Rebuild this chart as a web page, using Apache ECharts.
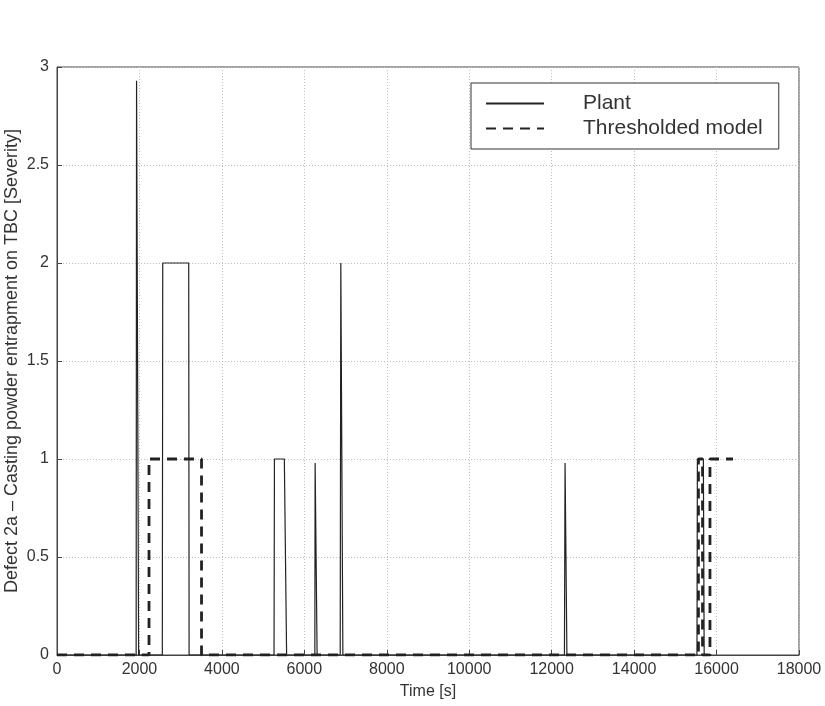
<!DOCTYPE html>
<html>
<head>
<meta charset="utf-8">
<title>Defect 2a severity over time</title>
<script src="https://cdn.jsdelivr.net/npm/echarts@6/dist/echarts.min.js"></script>
<style>
  html, body { margin: 0; padding: 0; background: #ffffff; }
  #chart { width: 825px; height: 706px; }
</style>
</head>
<body>
<div id="chart"></div>
<script>
// Plant-observed severity (time in seconds, severity level)
const plantTime     = [0, 1920, 1930, 1980, 2555, 2565, 3195, 3205, 5265, 5275, 5515, 5570, 6255, 6262, 6310, 6870, 6885, 6935, 12310, 12325, 12370, 15525, 15535, 15680, 15700];
const plantSeverity = [0, 0,    2.93, 0,    0,    2,    2,    0,    0,    1,    1,    0,    0,    0.98, 0,    0,    2,    0,    0,     0.98,  0,     0,     1,     1,     0];

// Thresholded model output
const modelTime     = [0, 2232, 2232, 3506, 3506, 15560, 15560, 15660, 15660, 15840, 15840, 16400];
const modelSeverity = [0, 0,    1,    1,    0,    0,     1,     1,     0,     0,     1,     1];

// Axis ticks
const xTicks = [0, 2000, 4000, 6000, 8000, 10000, 12000, 14000, 16000, 18000];
const yTickLabels = ['0', '0.5', '1', '1.5', '2', '2.5', '3'];

const pairs = (xs, ys) => xs.map((x, i) => [x, ys[i]]);

const FONT = '"Liberation Sans", Arial, Helvetica, sans-serif';
const INK = '#222222';

const chart = echarts.init(document.getElementById('chart'), null, { renderer: 'canvas' });

chart.setOption({
  animation: false,
  backgroundColor: '#ffffff',
  textStyle: { fontFamily: FONT },
  grid: {
    left: 57, right: 26, top: 67, bottom: 51,
    containLabel: false,
    outerBoundsMode: 'none',
    show: true,
    borderColor: '#444444',
    borderWidth: 1,
    backgroundColor: '#ffffff'
  },
  legend: {
    orient: 'vertical',
    left: 471,
    top: 83,
    padding: [10, 16, 10, 14],
    itemGap: 4,
    itemWidth: 58,
    itemHeight: 14,
    backgroundColor: '#ffffff',
    borderColor: '#333333',
    borderWidth: 1,
    borderRadius: 0,
    selectedMode: false,
    itemStyle: { opacity: 0 },
    textStyle: {
      fontFamily: FONT,
      fontSize: 21,
      lineHeight: 21,
      color: '#333333',
      padding: [0, 0, 0, 34]
    },
    data: ['Plant', 'Thresholded model']
  },
  xAxis: {
    type: 'value',
    min: 0,
    max: 18000,
    interval: 2000,
    name: 'Time [s]',
    nameLocation: 'middle',
    nameGap: 29,
    nameMoveOverlap: false,
    nameTextStyle: { fontFamily: FONT, fontSize: 16, color: '#333333' },
    axisLine: { show: true, onZero: false, lineStyle: { color: '#444444', width: 1 } },
    axisTick: { show: true, inside: true, length: 5, lineStyle: { color: '#444444' } },
    axisLabel: {
      fontFamily: FONT, fontSize: 16, color: '#333333', margin: 7,
      formatter: v => (xTicks.indexOf(v) >= 0 ? String(v) : '')
    },
    splitLine: { show: true, lineStyle: { color: '#bdbdbd', type: [1, 2], width: 1 } }
  },
  yAxis: {
    type: 'value',
    min: 0,
    max: 3,
    interval: 0.5,
    name: 'Defect 2a \u2013 Casting powder entrapment on TBC [Severity]',
    nameLocation: 'middle',
    nameGap: 36,
    nameMoveOverlap: false,
    nameRotate: 90,
    nameTextStyle: { fontFamily: FONT, fontSize: 18, color: '#333333' },
    axisLine: { show: true, lineStyle: { color: '#444444', width: 1 } },
    axisTick: { show: true, inside: true, length: 5, lineStyle: { color: '#444444' } },
    axisLabel: {
      fontFamily: FONT, fontSize: 16, color: '#333333', margin: 8,
      formatter: v => yTickLabels[Math.round(v * 2)] || ''
    },
    splitLine: { show: true, lineStyle: { color: '#bdbdbd', type: [1, 2], width: 1 } }
  },
  series: [
    {
      name: 'Plant',
      type: 'line',
      data: pairs(plantTime, plantSeverity),
      showSymbol: false,
      symbol: 'none',
      lineStyle: { color: INK, width: 1.2, type: 'solid' },
      itemStyle: { color: INK },
      z: 3
    },
    {
      name: 'Thresholded model',
      type: 'line',
      data: pairs(modelTime, modelSeverity),
      showSymbol: false,
      symbol: 'none',
      lineStyle: { color: INK, width: 2.8, type: [10, 7] },
      itemStyle: { color: INK },
      z: 4
    }
  ]
});
</script>
</body>
</html>
